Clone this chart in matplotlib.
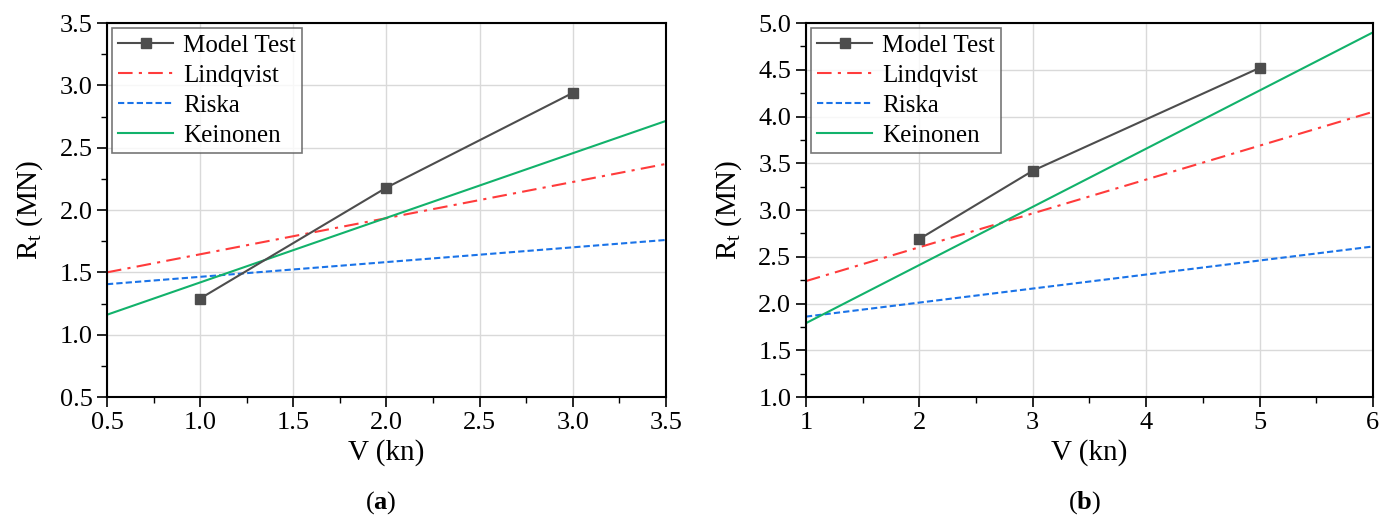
import matplotlib
matplotlib.use("Agg")
import matplotlib.pyplot as plt
from matplotlib.ticker import AutoMinorLocator, FormatStrFormatter

plt.rcParams["font.family"] = ["Liberation Serif", "DejaVu Serif"]
plt.rcParams["mathtext.fontset"] = "custom"
plt.rcParams["mathtext.rm"] = "Liberation Serif"
plt.rcParams["mathtext.it"] = "Liberation Serif"
plt.rcParams["mathtext.bf"] = "Liberation Serif:bold"

# --- data ---------------------------------------------------------------------

# (a)
a_test_v = [1.0, 2.0, 3.0]
a_test_r = [1.29, 2.18, 2.94]
a_line_v = [0.5, 3.5]
a_lindqvist = [1.50, 2.37]
a_riska = [1.405, 1.76]
a_keinonen = [1.16, 2.715]

# (b)
b_test_v = [2, 3, 5]
b_test_r = [2.69, 3.42, 4.52]
b_line_v = [1, 6]
b_lindqvist = [2.24, 4.05]
b_riska = [1.86, 2.61]
b_keinonen = [1.79, 4.90]

C_TEST = "#4d4d4d"
C_LIND = "#ff3b3b"
C_RISKA = "#1a73e8"
C_KEIN = "#12b26b"

fig = plt.figure(figsize=(13.91, 5.2), dpi=100)
ax_a = fig.add_axes([0.0769, 0.2365, 0.4019, 0.7192])
ax_b = fig.add_axes([0.5794, 0.2365, 0.4076, 0.7192])


def draw(ax, tv, tr, lv, lind, riska, kein):
    ax.plot(tv, tr, color=C_TEST, lw=1.5, marker="s", ms=6.5, label="Model Test", zorder=5)
    ax.plot(lv, lind, color=C_LIND, lw=1.5, ls=(0, (7, 3, 1.5, 3)), label="Lindqvist")
    ax.plot(lv, riska, color=C_RISKA, lw=1.5, ls=(0, (3, 1.5)), label="Riska")
    ax.plot(lv, kein, color=C_KEIN, lw=1.5, label="Keinonen")
    ax.grid(True, color="#d9d9d9", lw=1.0)
    ax.set_axisbelow(True)
    ax.xaxis.set_minor_locator(AutoMinorLocator(2))
    ax.yaxis.set_minor_locator(AutoMinorLocator(2))
    ax.tick_params(which="major", direction="out", length=7, width=1.2, labelsize=19)
    ax.tick_params(which="minor", direction="out", length=4, width=1.0)
    for s in ax.spines.values():
        s.set_linewidth(1.5)
    ax.set_xlabel("V (kn)", fontsize=21, labelpad=4)
    ax.set_ylabel(r"R$_\mathrm{t}$ (MN)", fontsize=21, labelpad=10)
    leg = ax.legend(loc="upper left", fontsize=18, frameon=True, fancybox=False,
                    handlelength=2.2, borderpad=0.25, labelspacing=0.3,
                    handletextpad=0.4, borderaxespad=0.2)
    leg.get_frame().set_edgecolor("#555555")
    leg.get_frame().set_linewidth(1.2)


draw(ax_a, a_test_v, a_test_r, a_line_v, a_lindqvist, a_riska, a_keinonen)
ax_a.set_xlim(0.5, 3.5)
ax_a.set_ylim(0.5, 3.5)
ax_a.set_xticks([0.5, 1.0, 1.5, 2.0, 2.5, 3.0, 3.5])
ax_a.set_yticks([0.5, 1.0, 1.5, 2.0, 2.5, 3.0, 3.5])
ax_a.xaxis.set_major_formatter(FormatStrFormatter("%.1f"))
ax_a.yaxis.set_major_formatter(FormatStrFormatter("%.1f"))

draw(ax_b, b_test_v, b_test_r, b_line_v, b_lindqvist, b_riska, b_keinonen)
ax_b.set_xlim(1, 6)
ax_b.set_ylim(1.0, 5.0)
ax_b.set_xticks([1, 2, 3, 4, 5, 6])
ax_b.set_yticks([1.0, 1.5, 2.0, 2.5, 3.0, 3.5, 4.0, 4.5, 5.0])
ax_b.yaxis.set_major_formatter(FormatStrFormatter("%.1f"))

fig.text(0.274, 0.022, r"($\mathbf{a}$)", ha="center", fontsize=19)
fig.text(0.780, 0.022, r"($\mathbf{b}$)", ha="center", fontsize=19)

fig.savefig("out.png", dpi=100)
